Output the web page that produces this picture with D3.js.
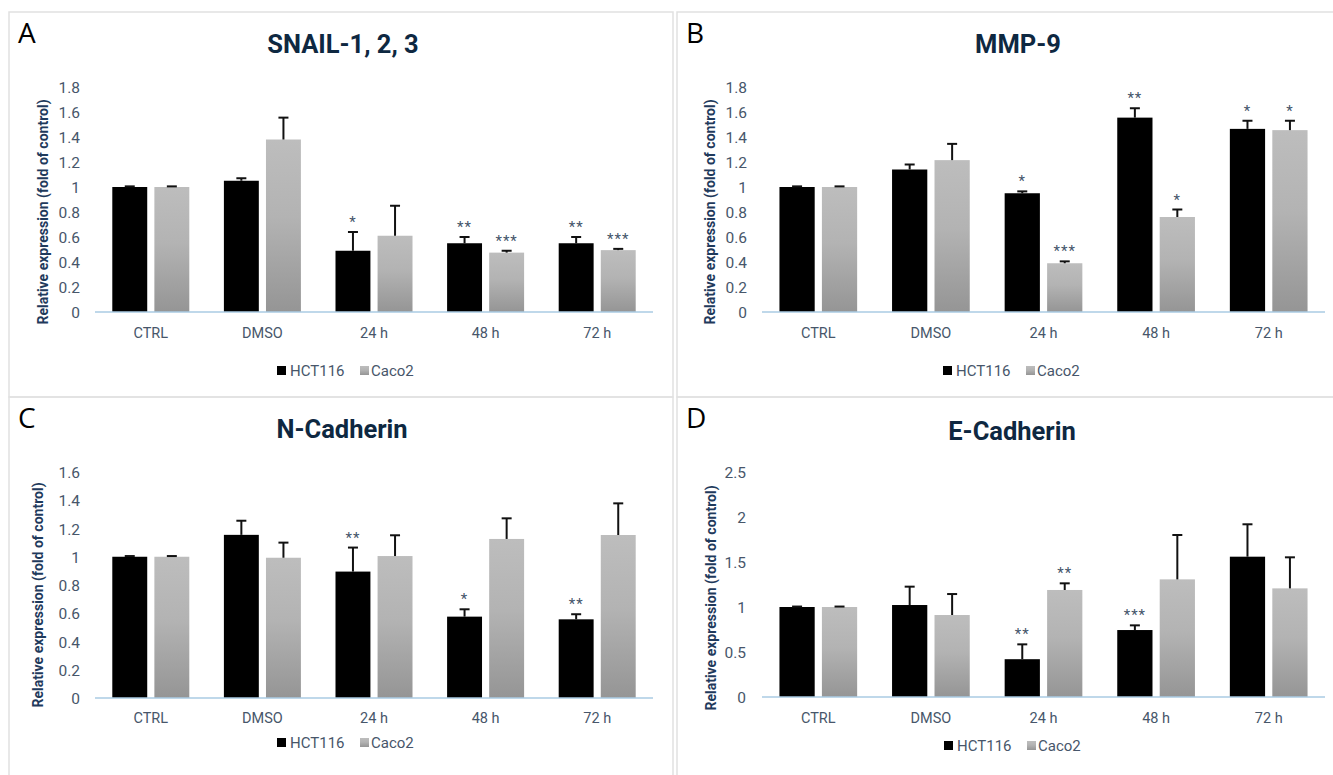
<!DOCTYPE html>
<html><head><meta charset="utf-8">
<script src="https://cdn.jsdelivr.net/npm/d3@7"></script>
<style>body{margin:0;background:#fff;} svg{display:block;}</style>
</head><body><svg id="c" width="1333" height="775"></svg>
<script>
// ---------- DATA ----------
const categories = ["CTRL", "DMSO", "24 h", "48 h", "72 h"];
const seriesNames = ["HCT116", "Caco2"];

// A: SNAIL-1, 2, 3
const snailTicks = [0, 0.2, 0.4, 0.6, 0.8, 1, 1.2, 1.4, 1.6, 1.8];
const snailHCT = [1.0, 1.05, 0.49, 0.55, 0.55];
const snailHCTErr = [0.005, 0.02, 0.15, 0.05, 0.05];
const snailHCTSig = ["", "", "*", "**", "**"];
const snailCaco = [1.0, 1.38, 0.61, 0.475, 0.495];
const snailCacoErr = [0.005, 0.175, 0.24, 0.015, 0.01];
const snailCacoSig = ["", "", "", "***", "***"];

// B: MMP-9
const mmpTicks = [0, 0.2, 0.4, 0.6, 0.8, 1, 1.2, 1.4, 1.6, 1.8];
const mmpHCT = [1.0, 1.14, 0.95, 1.555, 1.465];
const mmpHCTErr = [0.005, 0.04, 0.015, 0.075, 0.065];
const mmpHCTSig = ["", "", "*", "**", "*"];
const mmpCaco = [1.0, 1.215, 0.39, 0.76, 1.455];
const mmpCacoErr = [0.005, 0.13, 0.015, 0.06, 0.075];
const mmpCacoSig = ["", "", "***", "*", "*"];

// C: N-Cadherin
const ncadTicks = [0, 0.2, 0.4, 0.6, 0.8, 1, 1.2, 1.4, 1.6];
const ncadHCT = [1.0, 1.155, 0.895, 0.576, 0.557];
const ncadHCTErr = [0.005, 0.1, 0.17, 0.052, 0.036];
const ncadHCTSig = ["", "", "**", "*", "**"];
const ncadCaco = [1.0, 0.993, 1.005, 1.126, 1.154];
const ncadCacoErr = [0.005, 0.107, 0.147, 0.146, 0.224];
const ncadCacoSig = ["", "", "", "", ""];

// D: E-Cadherin
const ecadTicks = [0, 0.5, 1, 1.5, 2, 2.5];
const ecadHCT = [1.0, 1.022, 0.42, 0.744, 1.559];
const ecadHCTErr = [0.005, 0.204, 0.165, 0.052, 0.36];
const ecadHCTSig = ["", "", "**", "***", ""];
const ecadCaco = [1.0, 0.911, 1.189, 1.307, 1.207];
const ecadCacoErr = [0.005, 0.233, 0.074, 0.493, 0.345];
const ecadCacoSig = ["", "", "**", "", ""];

// ---------- LAYOUT ----------
const panels = [
  {letter:"A", title:"SNAIL-1, 2, 3", ticks:snailTicks, hct:snailHCT, hctErr:snailHCTErr, hctSig:snailHCTSig, caco:snailCaco, cacoErr:snailCacoErr, cacoSig:snailCacoSig,
   box:[9,12,664,385], lx:18, ly:43, tx:343, ty:53, x0:95, x1:653, yBase:312, yTop:87, tickX:80, ytX:43, ytY:212, catY:338, legY:376, legX:277},
  {letter:"B", title:"MMP-9", ticks:mmpTicks, hct:mmpHCT, hctErr:mmpHCTErr, hctSig:mmpHCTSig, caco:mmpCaco, cacoErr:mmpCacoErr, cacoSig:mmpCacoSig,
   box:[677,12,660,385], lx:686, ly:43, tx:1018, ty:53, x0:762, x1:1325, yBase:312, yTop:87, tickX:747, ytX:710, ytY:212, catY:338, legY:376, legX:943},
  {letter:"C", title:"N-Cadherin", ticks:ncadTicks, hct:ncadHCT, hctErr:ncadHCTErr, hctSig:ncadHCTSig, caco:ncadCaco, cacoErr:ncadCacoErr, cacoSig:ncadCacoSig,
   box:[9,397,664,390], lx:18, ly:428, tx:342, ty:438, x0:95, x1:653, yBase:698, yTop:472, tickX:80, ytX:38, ytY:595, catY:723, legY:748, legX:277},
  {letter:"D", title:"E-Cadherin", ticks:ecadTicks, hct:ecadHCT, hctErr:ecadHCTErr, hctSig:ecadHCTSig, caco:ecadCaco, cacoErr:ecadCacoErr, cacoSig:ecadCacoSig,
   box:[677,397,660,390], lx:686, ly:428, tx:1012, ty:440, x0:762, x1:1325, yBase:697, yTop:472, tickX:746, ytX:711, ytY:598, catY:723, legY:751, legX:944}
];

const svg = d3.select("#c");
const defs = svg.append("defs");
const grad = defs.append("linearGradient").attr("id","gGray").attr("x1",0).attr("y1",0).attr("x2",0).attr("y2",1);
grad.append("stop").attr("offset","0%").attr("stop-color","#bdbdbd");
grad.append("stop").attr("offset","45%").attr("stop-color","#b3b3b3");
grad.append("stop").attr("offset","100%").attr("stop-color","#959595");

const FONT = "Roboto, 'Liberation Sans', Arial, sans-serif";
const tickColor = "#47566a";
const navy = "#0e2841";

function drawPanel(p) {
  const g = svg.append("g");
  g.append("rect").attr("x",p.box[0]).attr("y",p.box[1]).attr("width",p.box[2]).attr("height",p.box[3])
    .attr("fill","none").attr("stroke","#e1e1e1").attr("stroke-width",1.5);
  g.append("text").attr("x",p.lx).attr("y",p.ly).text(p.letter)
    .attr("font-family","'Open Sans', 'Liberation Sans', sans-serif").attr("font-size",28).attr("fill","#000");
  g.append("text").attr("x",p.tx).attr("y",p.ty).attr("text-anchor","middle").text(p.title)
    .attr("font-family",FONT).attr("font-weight","bold").attr("font-size",25.5).attr("fill",navy);

  const x = d3.scaleBand().domain(categories).range([p.x0,p.x1]).paddingInner(0.31).paddingOuter(0.155);
  const xs = d3.scaleBand().domain(seriesNames).range([0,x.bandwidth()]).paddingInner(0.17);
  const y = d3.scaleLinear().domain([0, d3.max(p.ticks)]).range([p.yBase, p.yTop]);

  // y axis labels
  const ya = g.append("g").attr("transform",`translate(${p.tickX},0)`)
    .call(d3.axisLeft(y).tickValues(p.ticks).tickSize(0).tickPadding(0).tickFormat(d => String(d)));
  ya.select(".domain").remove();
  ya.selectAll("text").attr("font-family",FONT).attr("font-size",15.5).attr("fill",tickColor).attr("dy","0.36em");

  // y axis title
  g.append("text").attr("transform",`translate(${p.ytX},${p.ytY}) rotate(-90)`)
    .attr("text-anchor","middle").attr("dy","0.35em").text("Relative expression (fold of control)")
    .attr("font-family",FONT).attr("font-weight","bold").attr("font-size",14).attr("fill","#1f3a5c");

  const rows = [
    {name:"HCT116", vals:p.hct, errs:p.hctErr, sig:p.hctSig, fill:"#000"},
    {name:"Caco2", vals:p.caco, errs:p.cacoErr, sig:p.cacoSig, fill:"url(#gGray)"}
  ];
  rows.forEach(r => {
    const data = categories.map((c,i) => ({c, v:r.vals[i], e:r.errs[i], s:r.sig[i]}));
    const sg = g.append("g");
    sg.selectAll("rect").data(data).join("rect")
      .attr("x", d => x(d.c) + xs(r.name)).attr("width", xs.bandwidth())
      .attr("y", d => y(d.v)).attr("height", d => y(0) - y(d.v)).attr("fill", r.fill);
    const cx = d => x(d.c) + xs(r.name) + xs.bandwidth()/2;
    sg.selectAll("line.eb").data(data).join("line").attr("class","eb")
      .attr("x1",cx).attr("x2",cx).attr("y1",d=>y(d.v)).attr("y2",d=>y(d.v+d.e))
      .attr("stroke","#111").attr("stroke-width",2);
    sg.selectAll("line.cap").data(data).join("line").attr("class","cap")
      .attr("x1",d=>cx(d)-5).attr("x2",d=>cx(d)+5).attr("y1",d=>y(d.v+d.e)).attr("y2",d=>y(d.v+d.e))
      .attr("stroke","#111").attr("stroke-width",2);
    sg.selectAll("text.sig").data(data.filter(d=>d.s)).join("text").attr("class","sig")
      .attr("x",cx).attr("y",d=>y(d.v+d.e)-5).attr("text-anchor","middle").text(d=>d.s)
      .attr("font-family",FONT).attr("font-size",15).attr("letter-spacing",1).attr("fill","#44546a");
  });

  // x axis line
  g.append("line").attr("x1",p.x0).attr("x2",p.x1).attr("y1",y(0)).attr("y2",y(0))
    .attr("stroke","#aacbe3").attr("stroke-width",1.5);
  // category labels
  const xa = g.append("g").attr("transform",`translate(0,${p.catY})`)
    .call(d3.axisBottom(x).tickSize(0).tickPadding(0));
  xa.select(".domain").remove();
  xa.selectAll("text").attr("y",0).attr("dy",0).attr("font-family",FONT).attr("font-size",14.5).attr("fill",tickColor);

  // legend
  const lg = g.append("g");
  lg.append("rect").attr("x",p.legX).attr("y",p.legY-10).attr("width",9).attr("height",9).attr("fill","#000");
  lg.append("text").attr("x",p.legX+13).attr("y",p.legY).text(seriesNames[0])
    .attr("font-family",FONT).attr("font-size",15).attr("fill",tickColor);
  lg.append("rect").attr("x",p.legX+83).attr("y",p.legY-10).attr("width",9).attr("height",9).attr("fill","url(#gGray)");
  lg.append("text").attr("x",p.legX+94).attr("y",p.legY).text(seriesNames[1])
    .attr("font-family",FONT).attr("font-size",15).attr("fill",tickColor);
}
panels.forEach(drawPanel);
</script>
</body></html>
